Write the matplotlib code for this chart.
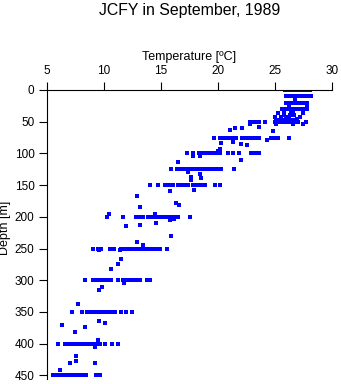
import numpy as np
import matplotlib
matplotlib.use("Agg")
import matplotlib.pyplot as plt

plt.rcParams["font.family"] = ["Liberation Sans", "DejaVu Sans"]

# temperatures (deg C) read at the standard depths
t000 = [25.9, 26.0, 26.1, 26.2, 26.3, 26.4, 26.5, 26.6, 26.7, 26.8, 26.9, 27.0, 27.1, 27.2,
        27.45, 27.6, 27.7, 27.8, 27.9, 28.0, 28.1]
t010 = [26.0, 26.1, 26.2, 26.3, 26.4, 26.5, 26.6, 26.7, 26.8, 26.9, 27.0, 27.1, 27.2, 27.3,
        27.5, 27.6, 27.8, 28.2]
t020 = [26.0, 26.1, 26.2, 26.3, 26.4, 26.5, 26.6, 26.7, 26.8, 26.9, 27.0, 27.1,
        27.35, 27.5, 27.6, 27.7, 27.8]
t030 = [25.65, 25.8, 25.9, 26.0, 26.1, 26.2, 26.3, 26.4, 26.5, 26.6, 26.7, 26.8, 26.9,
        27.0, 27.1, 27.2, 27.3, 27.4, 27.5, 27.6, 27.7, 27.8]
t050 = [22.8, 22.95, 23.1, 23.3, 23.6, 24.1, 25.0, 25.1, 25.2, 25.3, 25.4, 25.5, 25.6,
        25.7, 25.8, 25.9, 26.0, 26.1, 26.2, 26.3, 26.4, 26.5, 26.6, 26.7, 26.8, 26.9,
        27.0, 27.7]
t075 = [19.65, 20.2, 20.3, 20.4, 20.5, 20.6, 20.8, 21.0, 21.1, 21.3, 21.4, 21.6, 22.1,
        22.3, 22.45, 22.6, 23.0, 23.2, 23.4, 23.6, 24.65, 24.8, 25.0, 25.3, 26.2]
t100 = [17.25, 17.85, 18.3, 18.5, 18.7, 18.9, 19.2, 19.4, 19.6, 19.8, 20.0, 20.2, 20.9,
        21.35, 21.85, 22.9, 23.1, 23.25, 23.6]
t125 = [15.9, 16.4, 16.75, 16.9, 17.0, 17.15, 17.3, 17.45, 17.6, 17.75, 17.9, 18.05,
        18.2, 18.4, 18.55, 18.7, 18.85, 19.05, 19.2, 19.35, 19.5, 19.65, 19.8, 19.95,
        20.1, 20.3, 21.4]
t150 = [14.05, 14.7, 15.35, 15.7, 15.85, 16.05, 16.45, 16.6, 16.75, 16.9, 17.05, 17.2,
        17.4, 17.85, 18.0, 18.15, 18.3, 18.5, 18.65, 18.85, 19.75, 20.2]
t200 = [10.3, 11.65, 12.8, 12.95, 13.1, 13.25, 13.45, 13.9, 14.05, 14.2, 14.45, 14.85,
        15.0, 15.15, 15.3, 15.45, 15.6, 15.75, 15.9, 16.05, 16.2, 16.35, 16.5, 17.55]
t250 = [9.05, 9.5, 9.75, 10.5, 10.9, 11.45, 11.6, 11.75, 11.9, 12.05, 12.2, 12.35, 12.5,
        12.65, 12.85, 13.1, 13.25, 13.4, 13.55, 13.7, 13.85, 14.0, 14.15, 14.3, 14.45,
        14.6, 14.9, 15.5]
t300 = [8.35, 9.0, 9.2, 9.55, 9.7, 9.85, 10.0, 10.15, 10.3, 10.5, 10.65, 11.25, 11.7,
        11.85, 12.0, 12.2, 12.45, 12.65, 12.85, 13.15, 13.75, 14.05]
t350 = [7.2, 8.05, 8.5, 8.65, 8.8, 9.0, 9.15, 9.35, 9.5, 9.65, 9.8, 9.95, 10.1, 10.25,
        10.4, 10.6, 10.8, 10.95, 11.5, 11.95, 12.45]
t400 = [6.0, 6.6, 6.75, 7.0, 7.15, 7.3, 7.45, 7.6, 7.75, 7.9, 8.05, 8.2, 8.35, 8.5, 8.7,
        8.9, 9.05, 9.2, 9.35, 9.5, 9.65, 10.1, 10.7, 11.25]
t450 = [5.5, 5.7, 5.9, 6.15, 6.3, 6.45, 6.6, 6.75, 6.9, 7.05, 7.2, 7.35, 7.5, 7.65, 7.8,
        7.95, 8.05, 8.4, 9.3, 9.65]

std_depths = [0, 10, 20, 30, 50, 75, 100, 125, 150, 200, 250, 300, 350, 400, 450]
std_temps = [t000, t010, t020, t030, t050, t075, t100, t125, t150, t200, t250, t300,
             t350, t400, t450]

# odd depths in between
misc_depth = [15, 24, 24, 33, 37, 37, 37, 37, 39, 39, 39, 43, 43, 43, 43, 45, 45, 45,
              47, 47, 47, 47, 47, 47, 54, 54, 54, 54, 59, 60, 60, 63, 65, 79, 82, 83,
              85, 86, 93, 96, 104, 104, 110, 114, 130, 133, 137, 138, 142, 158, 160,
              167, 178, 181, 185, 195, 196, 204, 205, 209, 213, 214, 230, 239, 245,
              253, 253, 266, 274, 283, 304, 310, 316, 338, 364, 368, 371, 373, 381,
              394, 405, 420, 428, 431, 431, 442]
misc_temp = [26.75, 26.2, 27.8, 26.4, 25.3, 25.8, 26.55, 27.45, 25.8, 26.3, 26.65,
             25.0, 25.5, 26.0, 27.2, 25.5, 26.2, 26.9, 25.05, 25.3, 25.9, 26.2, 26.5,
             26.8, 22.85, 25.1, 26.6, 27.45, 23.6, 21.5, 22.1, 21.05, 24.8, 24.3,
             21.35, 20.3, 22.0, 22.5, 20.2, 20.0, 17.8, 18.4, 22.0, 16.5, 17.4, 18.4,
             17.6, 18.55, 17.6, 17.9, 15.75, 12.9, 16.3, 16.6, 13.2, 14.5, 10.45,
             16.15, 15.75, 14.6, 13.2, 11.95, 15.9, 12.9, 13.45, 9.55, 11.4, 11.5,
             11.25, 10.65, 11.75, 9.8, 9.55, 7.75, 9.55, 10.1, 6.35, 8.35, 7.45, 9.5,
             9.2, 7.55, 7.55, 7.05, 9.25, 6.15]

temp = np.concatenate([np.array(t) for t in std_temps] + [np.array(misc_temp)])
depth = np.concatenate([np.full(len(t), d) for d, t in zip(std_depths, std_temps)]
                       + [np.array(misc_depth)])

fig = plt.figure(figsize=(3.41, 3.84), dpi=100)
ax = fig.add_axes([47 / 341, 1 - 378.5 / 384, 285 / 341, 288.5 / 384])

ax.plot(temp, depth, "s", color="#0000ff", markersize=2.2, markeredgewidth=0)

ax.set_xlim(5, 30)
ax.set_ylim(455, 0)
ax.set_xticks([5, 10, 15, 20, 25, 30])
ax.set_yticks(range(0, 451, 50))
ax.xaxis.tick_top()
ax.xaxis.set_label_position("top")
ax.spines["right"].set_visible(False)
ax.spines["bottom"].set_visible(False)
ax.tick_params(axis="both", direction="out", length=6, width=0.8, labelsize=8.5, pad=3)
ax.set_xlabel("Temperature [ºC]", fontsize=9, labelpad=4)
ax.set_ylabel("Depth [m]", fontsize=9)
ax.yaxis.set_label_coords(-0.127, 0.522)

fig.text(190 / 341, 1 - 10 / 384, "JCFY in September, 1989", ha="center", va="center",
         fontsize=11.4)

fig.savefig("out.png", dpi=100)
